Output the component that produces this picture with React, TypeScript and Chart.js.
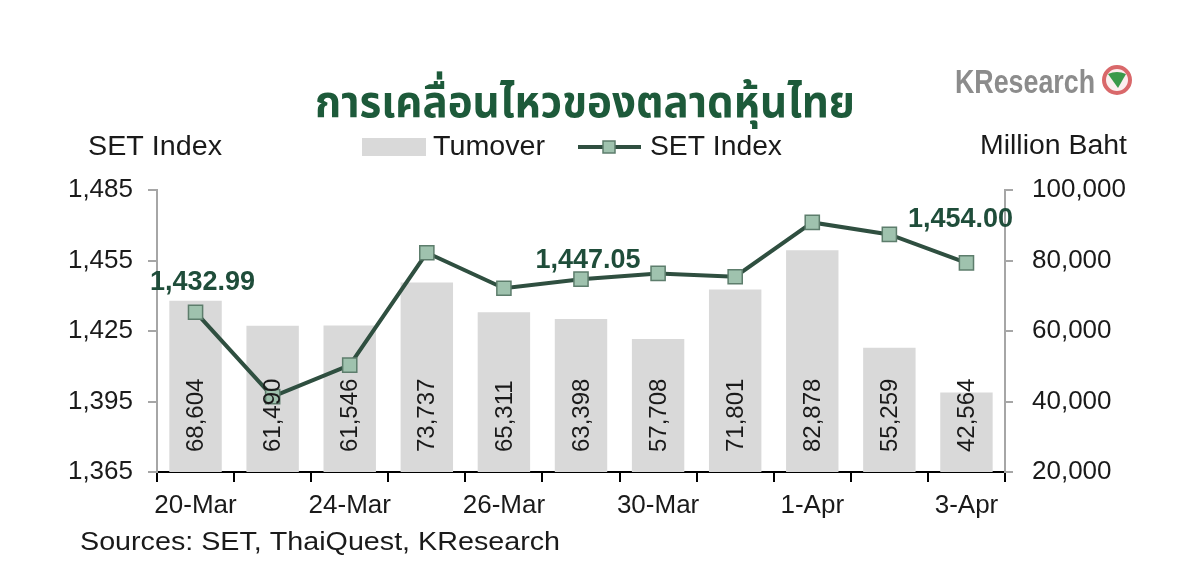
import React, { useEffect, useRef } from 'react';
import { Chart, registerables } from 'chart.js';

Chart.register(...registerables);

const categories = ['20-Mar', '23-Mar', '24-Mar', '25-Mar', '26-Mar', '27-Mar', '30-Mar', '31-Mar', '1-Apr', '2-Apr', '3-Apr'];
const turnover = [68604, 61490, 61546, 73737, 65311, 63398, 57708, 71801, 82878, 55259, 42564];
const setIndex = [1432.99, 1397.1, 1410.5, 1458.3, 1443.2, 1447.05, 1449.5, 1448.1, 1471.2, 1466.1, 1454.0];
const labeledPoints = [0, 5, 10];
const leftTicks = [1365, 1395, 1425, 1455, 1485];
const rightTicks = [20000, 40000, 60000, 80000, 100000];

const TITLE = 'การเคลื่อนไหวของตลาดหุ้นไทย';
const LEGEND_BAR = 'Tumover';
const LEGEND_LINE = 'SET Index';
const LEFT_TITLE = 'SET Index';
const RIGHT_TITLE = 'Million Baht';
const SOURCES = 'Sources: SET, ThaiQuest, KResearch';
const LOGO = 'KResearch';

const SANS = "'Liberation Sans', Arial, Helvetica, sans-serif";
const THAI = "'Noto Sans Thai', 'Noto Sans Thai UI', 'Noto Sans', 'DejaVu Sans', sans-serif";
const BAR_COLOR = '#d9d9d9';
const LINE_COLOR = '#2f4f40';
const POINT_FILL = '#9fc2ae';
const POINT_BORDER = '#5d7d6c';
const LABEL_GREEN = '#1f4d3a';
const TEXT = '#1a1a1a';

const fmt = (v: number) => Math.round(v).toLocaleString('en-US');

function fillFit(ctx: CanvasRenderingContext2D, text: string, x: number, y: number, width: number) {
  const w = ctx.measureText(text).width;
  const sx = width / w;
  ctx.save();
  ctx.translate(x, y);
  ctx.scale(sx, 1);
  ctx.textAlign = 'left';
  ctx.fillText(text, 0, 0);
  ctx.restore();
}

const decorPlugin = {
  id: 'decor',
  afterDatasetsDraw(chart: any) {
    const ctx: CanvasRenderingContext2D = chart.ctx;
    const area = chart.chartArea;
    ctx.save();

    // Bar value labels (rotated)
    const barMeta = chart.getDatasetMeta(1);
    ctx.font = `24px ${SANS}`;
    ctx.fillStyle = TEXT;
    barMeta.data.forEach((bar: any, i: number) => {
      ctx.save();
      ctx.translate(bar.x, area.bottom - 20);
      ctx.rotate(-Math.PI / 2);
      ctx.textAlign = 'left';
      ctx.textBaseline = 'middle';
      ctx.fillText(fmt(turnover[i]), 0, 1);
      ctx.restore();
    });

    // Point labels
    const lineMeta = chart.getDatasetMeta(0);
    const offsets: Record<number, [number, number]> = { 0: [7, -22], 5: [7, -11], 10: [-6, -36] };
    ctx.font = `bold 27px ${SANS}`;
    ctx.fillStyle = LABEL_GREEN;
    ctx.textAlign = 'center';
    ctx.textBaseline = 'alphabetic';
    labeledPoints.forEach((i) => {
      const p = lineMeta.data[i];
      const [dx, dy] = offsets[i] || [0, -14];
      ctx.fillText(setIndex[i].toLocaleString('en-US', { minimumFractionDigits: 2, maximumFractionDigits: 2 }), p.x + dx, p.y + dy);
    });
    ctx.restore();
  },
  afterDraw(chart: any) {
    const ctx: CanvasRenderingContext2D = chart.ctx;
    ctx.save();
    ctx.textBaseline = 'alphabetic';

    // Title
    ctx.font = `bold 44px ${THAI}`;
    ctx.fillStyle = '#1d5a3a';
    fillFit(ctx, TITLE, 315, 117, 540);

    // Axis titles
    ctx.font = `27px ${SANS}`;
    ctx.fillStyle = TEXT;
    fillFit(ctx, LEFT_TITLE, 88, 155, 134);
    fillFit(ctx, RIGHT_TITLE, 980, 154, 147);

    // Legend
    ctx.fillStyle = BAR_COLOR;
    ctx.fillRect(362, 138, 64, 18);
    ctx.fillStyle = TEXT;
    fillFit(ctx, LEGEND_BAR, 433, 155, 112);
    ctx.strokeStyle = LINE_COLOR;
    ctx.lineWidth = 4;
    ctx.beginPath();
    ctx.moveTo(578, 147);
    ctx.lineTo(641, 147);
    ctx.stroke();
    ctx.fillStyle = POINT_FILL;
    ctx.strokeStyle = POINT_BORDER;
    ctx.lineWidth = 1.5;
    ctx.fillRect(603, 141, 12, 12);
    ctx.strokeRect(603, 141, 12, 12);
    ctx.fillStyle = TEXT;
    fillFit(ctx, LEGEND_LINE, 650, 155, 132);

    // Sources
    ctx.font = `26px ${SANS}`;
    fillFit(ctx, SOURCES, 80, 550, 480);

    // Logo
    ctx.font = `bold 34px ${SANS}`;
    ctx.fillStyle = '#8c8c8c';
    fillFit(ctx, LOGO, 955, 93, 140);
    ctx.beginPath();
    ctx.arc(1117, 80, 13, 0, Math.PI * 2);
    ctx.fillStyle = '#fbeeee';
    ctx.fill();
    ctx.lineWidth = 4;
    ctx.strokeStyle = '#d9686a';
    ctx.stroke();
    ctx.beginPath();
    ctx.moveTo(1108, 74);
    ctx.quadraticCurveTo(1117, 70, 1126, 74);
    ctx.lineTo(1118, 88);
    ctx.closePath();
    ctx.fillStyle = '#3a9a4a';
    ctx.fill();

    ctx.restore();
  },
};

export default function App() {
  const ref = useRef<HTMLCanvasElement | null>(null);

  useEffect(() => {
    document.body.style.margin = '0';
    const canvas = ref.current;
    if (!canvas) return;
    const chart = new Chart(canvas, {
      type: 'bar',
      data: {
        labels: categories,
        datasets: [
          {
            type: 'line',
            label: LEGEND_LINE,
            data: setIndex,
            yAxisID: 'y',
            borderColor: LINE_COLOR,
            borderWidth: 4,
            pointStyle: 'rect',
            pointRadius: 10,
            pointBackgroundColor: POINT_FILL,
            pointBorderColor: POINT_BORDER,
            pointBorderWidth: 1.5,
            tension: 0,
            order: 0,
          } as any,
          {
            type: 'bar',
            label: LEGEND_BAR,
            data: turnover,
            yAxisID: 'y1',
            backgroundColor: BAR_COLOR,
            borderWidth: 0,
            barPercentage: 0.68,
            categoryPercentage: 1,
            order: 1,
          } as any,
        ],
      },
      options: {
        responsive: false,
        animation: false,
        layout: { padding: { top: 190, bottom: 40, left: 0, right: 0 } },
        plugins: {
          legend: { display: false },
          title: { display: false },
          tooltip: { enabled: false },
        },
        scales: {
          x: {
            offset: true,
            grid: { offset: true, drawOnChartArea: false, drawTicks: true, tickLength: 10, color: '#000', lineWidth: 2 },
            border: { display: true, color: '#000', width: 2 },
            ticks: {
              autoSkip: false,
              maxRotation: 0,
              minRotation: 0,
              padding: 8,
              color: TEXT,
              font: { size: 26, family: SANS },
              callback: (_v: any, i: number) => (i % 2 === 0 ? categories[i] : ''),
            },
            afterFit: (s: any) => {
              s.height = 60;
            },
          },
          y: {
            position: 'left',
            min: leftTicks[0],
            max: leftTicks[leftTicks.length - 1],
            afterBuildTicks: (s: any) => {
              s.ticks = leftTicks.map((v) => ({ value: v }));
            },
            grid: { drawOnChartArea: false, drawTicks: true, tickLength: 9, color: '#a6a6a6', lineWidth: 2 },
            border: { display: true, color: '#a6a6a6', width: 2 },
            ticks: {
              padding: 15,
              color: TEXT,
              font: { size: 26, family: SANS },
              callback: (v: any) => fmt(Number(v)),
            },
            afterFit: (s: any) => {
              s.width = 157;
            },
          },
          y1: {
            position: 'right',
            min: rightTicks[0],
            max: rightTicks[rightTicks.length - 1],
            afterBuildTicks: (s: any) => {
              s.ticks = rightTicks.map((v) => ({ value: v }));
            },
            grid: { drawOnChartArea: false, drawTicks: true, tickLength: 8, color: '#a6a6a6', lineWidth: 2 },
            border: { display: true, color: '#a6a6a6', width: 2 },
            ticks: {
              padding: 19,
              color: TEXT,
              font: { size: 26, family: SANS },
              callback: (v: any) => fmt(Number(v)),
            },
            afterFit: (s: any) => {
              s.width = 195;
            },
          },
        },
      } as any,
      plugins: [decorPlugin],
    });
    return () => chart.destroy();
  }, []);

  return (
    <div style={{ width: 1200, height: 572, background: '#fff' }}>
      <canvas ref={ref} width={1200} height={572} style={{ display: 'block', width: 1200, height: 572 }} />
    </div>
  );
}
